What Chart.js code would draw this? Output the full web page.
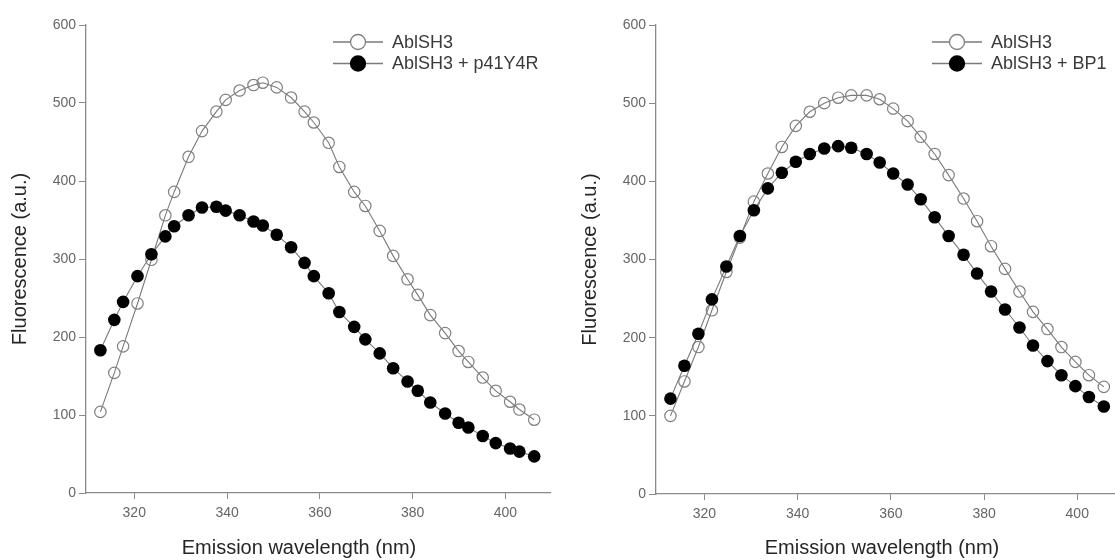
<!DOCTYPE html>
<html>
<head>
<meta charset="utf-8">
<script src="https://cdn.jsdelivr.net/npm/chart.js@4.4.1/dist/chart.umd.min.js"></script>
<style>
  html, body { margin: 0; padding: 0; background: #fff; overflow: hidden; }
  #wrap { position: relative; width: 1115px; height: 560px; overflow: hidden; }
  canvas { position: absolute; top: 0; }
  #left { left: 0; }
  #right { left: 570px; }
</style>
</head>
<body>
<div id="wrap">
  <canvas id="left" width="560" height="560"></canvas>
  <canvas id="right" width="560" height="560"></canvas>
</div>
<script>
// emission spectra, panel 1: AblSH3 alone and with p41Y4R
const wavelengthP41 = [312.7, 315.7, 317.6, 320.7, 323.7, 326.7, 328.6, 331.7, 334.6, 337.7,
  339.7, 342.7, 345.7, 347.7, 350.7, 353.8, 356.7, 358.7, 361.9, 364.2,
  367.4, 369.8, 372.9, 375.8, 378.9, 381.1, 383.8, 387.0, 389.9, 392.0,
  395.1, 397.9, 401.0, 403.0, 406.2];
const ablAlone1 = [104, 154, 188, 243, 299, 356, 386, 431, 464, 489,
  504, 516, 523, 526, 520, 507, 489, 475, 449, 418,
  386, 368, 336, 304, 274, 254, 228, 205, 182, 168,
  148, 131, 117, 107, 94];
const ablP41 = [183, 222, 245, 278, 306, 329, 342, 356, 366, 367,
  362, 356, 348, 343, 331, 315, 295, 278, 256, 232,
  213, 197, 179, 160, 143, 131, 116, 102, 90, 84,
  73, 64, 57, 53, 47];

// panel 2: AblSH3 alone and with BP1
const wavelengthBP1 = [312.7, 315.7, 318.7, 321.6, 324.7, 327.6, 330.6, 333.6, 336.6, 339.6,
  342.6, 345.7, 348.7, 351.5, 354.8, 357.6, 360.5, 363.6, 366.4, 369.4,
  372.4, 375.6, 378.5, 381.5, 384.5, 387.6, 390.5, 393.6, 396.6, 399.6,
  402.5, 405.7];
const ablAlone2 = [100, 144, 188, 235, 284, 328, 374, 410, 444, 471,
  489, 500, 507, 510, 510, 505, 493, 477, 457, 435,
  408, 378, 349, 317, 288, 259, 233, 211, 188, 169,
  152, 137];
const ablBP1 = [122, 164, 205, 249, 291, 330, 363, 391, 411, 425,
  435, 442, 445, 443, 435, 424, 410, 396, 377, 354,
  330, 306, 282, 259, 236, 213, 190, 170, 152, 138,
  124, 112];

const xTickValues = [320, 340, 360, 380, 400];
const yTickValues = [0, 100, 200, 300, 400, 500, 600];

const FONT = 'Liberation Sans, Arial, Helvetica, sans-serif';
const AXIS = '#8a8a8a';
const LINE = '#7a7a7a';

function points(xs, ys) {
  return xs.map((x, i) => ({ x: x, y: ys[i] }));
}

// line + marker + label legend, plus the x caption (sits a bit left of the plot centre)
const lineLegend = {
  id: 'lineLegend',
  afterDraw(chart, args, opts) {
    const ctx = chart.ctx;
    ctx.save();
    chart.data.datasets.forEach((ds, i) => {
      const y = opts.y + i * opts.rowGap;
      ctx.strokeStyle = LINE;
      ctx.lineWidth = 1.4;
      ctx.beginPath();
      ctx.moveTo(opts.x, y);
      ctx.lineTo(opts.x + opts.lineLen, y);
      ctx.stroke();
      ctx.beginPath();
      ctx.arc(opts.x + opts.lineLen / 2, y, 7.5, 0, Math.PI * 2);
      ctx.fillStyle = ds.pointBackgroundColor === 'rgba(0,0,0,0)' ? '#fff' : ds.pointBackgroundColor;
      ctx.fill();
      ctx.strokeStyle = ds.pointBorderColor;
      ctx.lineWidth = 1.3;
      ctx.stroke();
      ctx.fillStyle = '#3a3a3a';
      ctx.font = '18px ' + FONT;
      ctx.textBaseline = 'middle';
      ctx.textAlign = 'left';
      ctx.fillText(ds.label, opts.x + opts.lineLen + 9, y + 1);
    });
    ctx.fillStyle = '#262626';
    ctx.font = '20px ' + FONT;
    ctx.textAlign = 'center';
    ctx.textBaseline = 'middle';
    ctx.fillText(opts.caption, opts.captionX, 548);
    ctx.restore();
  }
};

function makeChart(id, wl, alone, bound, boundLabel, rightPad, xAxisHeight, legendX, captionX) {
  return new Chart(document.getElementById(id), {
    type: 'line',
    data: {
      datasets: [{
        label: 'AblSH3',
        data: points(wl, alone),
        borderColor: LINE,
        borderWidth: 1.1,
        pointRadius: 5.7,
        pointBorderWidth: 1.2,
        pointBorderColor: '#808080',
        pointBackgroundColor: 'rgba(0,0,0,0)',
        order: 1
      }, {
        label: boundLabel,
        data: points(wl, bound),
        borderColor: LINE,
        borderWidth: 1.1,
        pointRadius: 6.3,
        pointBorderWidth: 0,
        pointBorderColor: '#000',
        pointBackgroundColor: '#000',
        order: 0
      }]
    },
    options: {
      responsive: false,
      animation: false,
      events: [],
      layout: { padding: { left: 0, top: 25, right: rightPad, bottom: 0 } },
      elements: { line: { tension: 0 } },
      plugins: {
        legend: { display: false },
        tooltip: { enabled: false },
        lineLegend: {
          x: legendX, y: 42, rowGap: 21.5, lineLen: 50,
          caption: 'Emission wavelength (nm)', captionX: captionX
        }
      },
      scales: {
        x: {
          type: 'linear',
          min: 309.6,
          max: 409.6,
          afterBuildTicks: s => { s.ticks = xTickValues.map(v => ({ value: v })); },
          afterFit: s => { s.height = xAxisHeight; },
          grid: { drawOnChartArea: false, color: AXIS, tickLength: 6, tickWidth: 1 },
          border: { color: AXIS, width: 1.3 },
          ticks: { color: '#666', font: { family: FONT, size: 14 }, padding: 6, maxRotation: 0 },
          title: { display: false }
        },
        y: {
          min: 0,
          max: 600,
          afterBuildTicks: s => { s.ticks = yTickValues.map(v => ({ value: v })); },
          afterFit: s => { s.width = 86; },
          grid: { drawOnChartArea: false, color: AXIS, tickLength: 7, tickWidth: 1 },
          border: { color: AXIS, width: 1.3 },
          ticks: { color: '#666', font: { family: FONT, size: 14 }, padding: 3 },
          title: {
            display: true,
            text: 'Fluorescence (a.u.)',
            color: '#262626',
            font: { family: FONT, size: 20 },
            padding: { top: 8, bottom: 0 }
          }
        }
      }
    },
    plugins: [lineLegend]
  });
}

makeChart('left', wavelengthP41, ablAlone1, ablP41, 'AblSH3 + p41Y4R', 10, 67, 333, 299);
makeChart('right', wavelengthBP1, ablAlone2, ablBP1, 'AblSH3 + BP1', 8, 66, 362, 312);
</script>
</body>
</html>
